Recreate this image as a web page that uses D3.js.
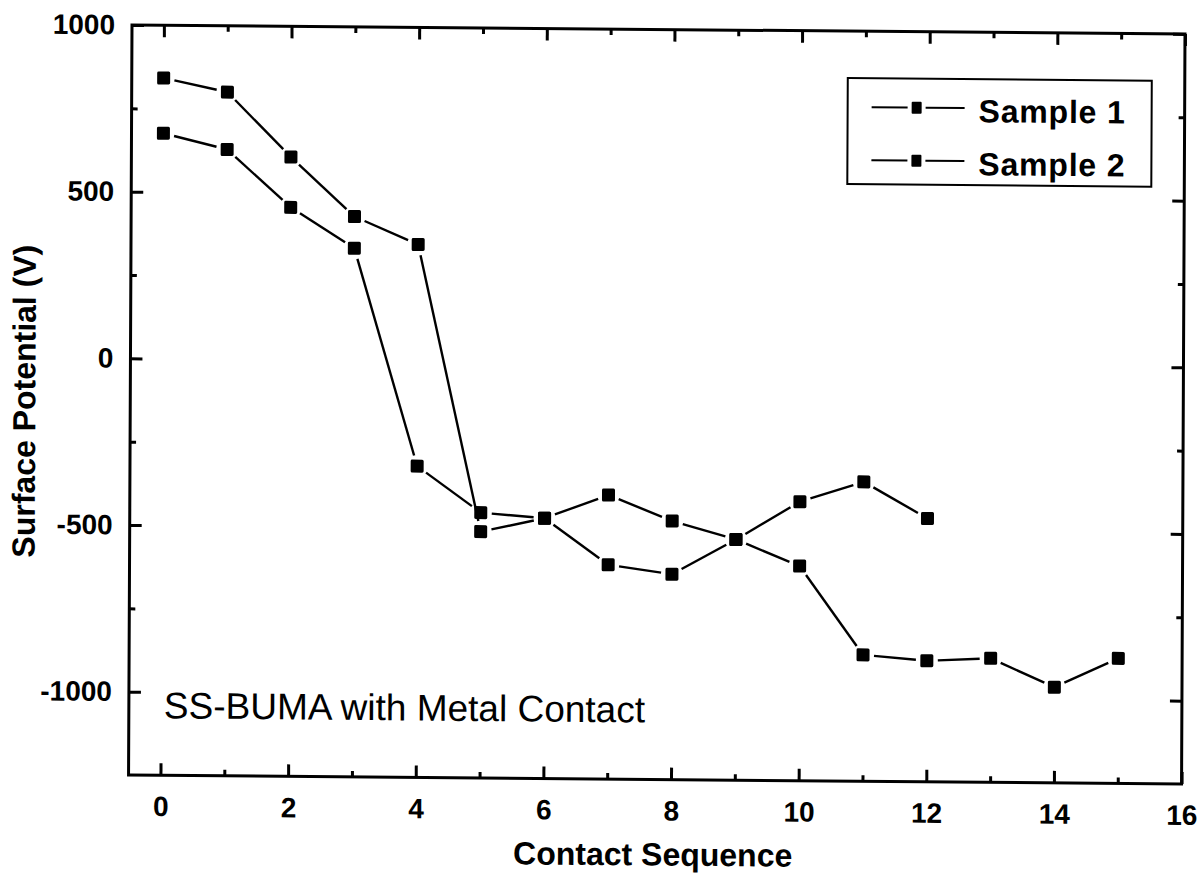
<!DOCTYPE html>
<html>
<head>
<meta charset="utf-8">
<script src="https://cdn.jsdelivr.net/npm/d3@7"></script>
<style>
  body { margin: 0; background: #fff; }
  svg { display: block; }
  text { font-family: "Liberation Sans", Arial, sans-serif; fill: #000; }
</style>
</head>
<body>
<svg id="chart" width="1204" height="873"></svg>
<script>
// Surface potential after each metal contact, two samples
const seriesNames = ["Sample 1", "Sample 2"];
const sequence1 = [0, 1, 2, 3, 4, 5, 6, 7, 8, 9, 10, 11, 12];
const potential1 = [842, 801, 608, 431, 349, -511, -469, -398, -474, -528, -413, -352, -460];
const sequence2 = [0, 1, 2, 3, 4, 5, 6, 7, 8, 9, 10, 11, 12, 13, 14, 15];
const potential2 = [676, 629, 457, 336, -316, -454, -469, -607, -634, -528, -606, -871, -887, -878, -963, -875];

const xMajorTicks = [0, 2, 4, 6, 8, 10, 12, 14, 16];
const xMinorTicks = [1, 3, 5, 7, 9, 11, 13, 15];
const yMajorTicks = [-1000, -500, 0, 500, 1000];
const yMinorTicks = [-750, -250, 250, 750];

const xTitle = "Contact Sequence";
const yTitle = "Surface Potential (V)";
const note = "SS-BUMA with Metal Contact";

const plainNumber = d => String(d);

const svg = d3.select("#chart");
svg.append("rect").attr("width", 1204).attr("height", 873).attr("fill", "#fff");

// the whole figure sits slightly askew on the page
const root = svg.append("g")
  .attr("transform", "translate(131,25) matrix(1,0.0085,-0.0046,1,0,0) translate(-131,-25)");

const x = d3.scaleLinear().domain([-0.5, 16]).range([132, 1185]);
const y = d3.scaleLinear().domain([-1250, 1000]).range([775, 25]);

const [x0, x1] = x.range();
const [yB, yT] = y.range();

// ticks on all four sides, pointing inward
function styleAxis(sel) {
  sel.select(".domain").remove();
  sel.selectAll(".tick line").attr("stroke", "#000").attr("stroke-width", 3);
  sel.selectAll(".tick text")
    .style("font-size", "28px").style("font-weight", "bold")
    .style("font-family", "'Liberation Sans', Arial, sans-serif")
    .attr("fill", "#000");
}

root.append("g").attr("transform", `translate(0,${yB})`)
  .call(d3.axisBottom(x).tickValues(xMajorTicks).tickSize(-12).tickPadding(21).tickFormat(plainNumber))
  .call(styleAxis);
root.append("g").attr("transform", `translate(0,${yB})`)
  .call(d3.axisBottom(x).tickValues(xMinorTicks).tickSize(-6).tickFormat(""))
  .call(styleAxis);
root.append("g").attr("transform", `translate(0,${yT})`)
  .call(d3.axisTop(x).tickValues(xMajorTicks).tickSize(-12).tickFormat(""))
  .call(styleAxis);
root.append("g").attr("transform", `translate(0,${yT})`)
  .call(d3.axisTop(x).tickValues(xMinorTicks).tickSize(-6).tickFormat(""))
  .call(styleAxis);

root.append("g").attr("transform", `translate(${x0},0)`)
  .call(d3.axisLeft(y).tickValues(yMajorTicks).tickSize(-12).tickPadding(17).tickFormat(plainNumber))
  .call(styleAxis);
root.append("g").attr("transform", `translate(${x0},0)`)
  .call(d3.axisLeft(y).tickValues(yMinorTicks).tickSize(-6).tickFormat(""))
  .call(styleAxis);
root.append("g").attr("transform", `translate(${x1},0)`)
  .call(d3.axisRight(y).tickValues(yMajorTicks).tickSize(-12).tickFormat(""))
  .call(styleAxis);
root.append("g").attr("transform", `translate(${x1},0)`)
  .call(d3.axisRight(y).tickValues(yMinorTicks).tickSize(-6).tickFormat(""))
  .call(styleAxis);

// frame
root.append("rect")
  .attr("x", x0).attr("y", yT)
  .attr("width", x1 - x0).attr("height", yB - yT)
  .attr("fill", "none").attr("stroke", "#000").attr("stroke-width", 3);

// axis titles
root.append("text")
  .attr("x", (x0 + x1) / 2 - 2).attr("y", 861)
  .attr("text-anchor", "middle")
  .style("font-size", "32px").style("font-weight", "bold")
  .text(xTitle);
root.append("text")
  .attr("transform", `translate(37,${(yT + yB) / 2 + 2}) rotate(-90)`)
  .attr("text-anchor", "middle")
  .style("font-size", "32px").style("font-weight", "bold")
  .text(yTitle);

// annotation inside the plot
root.append("text")
  .attr("x", 167).attr("y", 718)
  .style("font-size", "37px")
  .text(note);

// connecting lines stop short of each marker
const gap = 11;
function gappedSegments(xs, vs) {
  const pts = xs.map((d, i) => [x(d), y(vs[i])]);
  const segs = [];
  for (let i = 0; i < pts.length - 1; i++) {
    const [ax, ay] = pts[i], [bx, by] = pts[i + 1];
    const dx = bx - ax, dy = by - ay, len = Math.hypot(dx, dy);
    if (len <= 2 * gap) continue;
    const ux = dx / len, uy = dy / len;
    segs.push([ax + ux * gap, ay + uy * gap, bx - ux * gap, by - uy * gap]);
  }
  return segs;
}

const series = [
  { name: seriesNames[0], xs: sequence1, vs: potential1 },
  { name: seriesNames[1], xs: sequence2, vs: potential2 }
];

const marks = root.append("g");
series.forEach(s => {
  marks.append("g").selectAll("line")
    .data(gappedSegments(s.xs, s.vs))
    .join("line")
    .attr("x1", d => d[0]).attr("y1", d => d[1])
    .attr("x2", d => d[2]).attr("y2", d => d[3])
    .attr("stroke", "#000").attr("stroke-width", 2.4);
  const size = 13;
  marks.append("g").selectAll("rect")
    .data(s.xs.map((d, i) => [d, s.vs[i]]))
    .join("rect")
    .attr("x", d => x(d[0]) - size / 2).attr("y", d => y(d[1]) - size / 2)
    .attr("width", size).attr("height", size)
    .attr("rx", 1.5)
    .attr("fill", "#000");
});

// legend
const legend = root.append("g");
legend.append("rect")
  .attr("x", 848).attr("y", 72).attr("width", 304).attr("height", 106)
  .attr("fill", "#fff").attr("stroke", "#000").attr("stroke-width", 2);
const rows = [101, 154];
series.forEach((s, i) => {
  const cy = rows[i];
  legend.append("line").attr("x1", 872).attr("x2", 908).attr("y1", cy).attr("y2", cy)
    .attr("stroke", "#000").attr("stroke-width", 2);
  legend.append("line").attr("x1", 926).attr("x2", 965).attr("y1", cy).attr("y2", cy)
    .attr("stroke", "#000").attr("stroke-width", 2);
  legend.append("rect").attr("x", 912).attr("y", cy - 6).attr("width", 10).attr("height", 12)
    .attr("rx", 1).attr("fill", "#000");
  legend.append("text").attr("x", 979).attr("y", cy + 14)
    .style("font-size", "32px").style("font-weight", "bold").style("letter-spacing", "0.8px")
    .text(s.name);
});
</script>
</body>
</html>
